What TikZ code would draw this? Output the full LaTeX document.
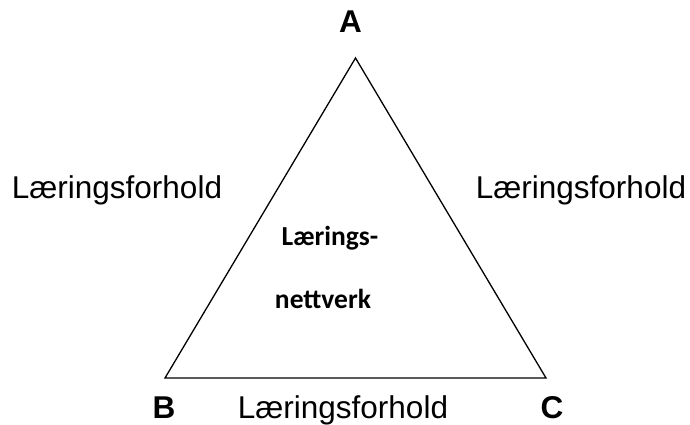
\documentclass[tikz,border=0pt]{standalone}
\usepackage{fontspec}
\setmainfont{Liberation Sans}
\newfontfamily\calibri{Carlito}
\usetikzlibrary{positioning}
\tikzset{
  corner/.style={font=\fontsize{31.5}{36}\selectfont\bfseries, anchor=base},
  relation/.style={font=\fontsize{31.5}{36}\selectfont, anchor=base},
  centre/.style={font=\calibri\fontsize{27.5}{32}\selectfont\bfseries, anchor=base},
}
\begin{document}
\begin{tikzpicture}[x=1pt, y=-1pt, line width=1.3pt]
  \useasboundingbox (0,0) rectangle (690,425);

  % Triangle
  \coordinate (pA) at (355.5,58);
  \coordinate (pB) at (165,378);
  \coordinate (pC) at (546,378);
  \draw[line join=miter] (pA) -- (pB) -- (pC) -- cycle;

  % Corners
  \node[corner] (A) at (350.5,33) {A};
  \node[corner] (B) at (164,418) {B};
  \node[corner] (C) at (552,418) {C};

  % Relations on the sides
  \node[relation] (AB) at (117,198) {Læringsforhold};
  \node[relation] (AC) at (581,198) {Læringsforhold};
  \node[relation] (BC) at (343,418) {Læringsforhold};

  % Middle
  \node[centre] (net1) at (330,245) {Lærings-};
  \node[centre] (net2) at (323,308) {nettverk};
\end{tikzpicture}
\end{document}
